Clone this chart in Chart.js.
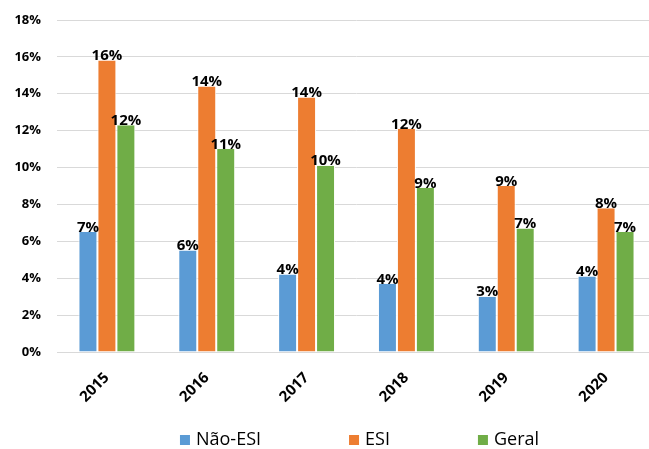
<!DOCTYPE html>
<html>
<head>
<meta charset="utf-8">
<script src="https://cdn.jsdelivr.net/npm/chart.js@4"></script>
<style>
  html, body { margin: 0; padding: 0; background: #fff; overflow: hidden; }
  #wrap { width: 656px; height: 449px; }
</style>
</head>
<body>
<div id="wrap"><canvas id="myChart"></canvas></div>
<script>
// years and rates (%) per group
const years = ["2015", "2016", "2017", "2018", "2019", "2020"];
const naoEsi = [6.5, 5.5, 4.2, 3.7, 3.0, 4.1];
const esi = [15.8, 14.4, 13.8, 12.1, 9.0, 7.8];
const geral = [12.3, 11.0, 10.1, 8.9, 6.7, 6.5];

const FONT = "'Open Sans', 'Noto Sans', sans-serif";

// draws the rounded % value above each bar
const valueLabels = {
  id: "valueLabels",
  afterDatasetsDraw(chart) {
    const ctx = chart.ctx;
    ctx.save();
    ctx.font = "bold 15px " + FONT;
    ctx.fillStyle = "#000";
    ctx.textAlign = "center";
    ctx.textBaseline = "bottom";
    chart.data.datasets.forEach((ds, i) => {
      const meta = chart.getDatasetMeta(i);
      meta.data.forEach((bar, j) => {
        ctx.fillText(Math.round(ds.data[j]) + "%", bar.x, bar.y + 3);
      });
    });
    ctx.restore();
  }
};

// legend along the bottom with wide gaps between the entries
const wideLegend = {
  id: "wideLegend",
  afterDraw(chart) {
    const ctx = chart.ctx;
    const gap = 88;
    const y = chart.height - 9;
    ctx.save();
    ctx.font = "18px " + FONT;
    ctx.textBaseline = "middle";
    const items = chart.data.datasets.map((ds) => ({
      text: ds.label,
      color: ds.backgroundColor,
      w: 16 + ctx.measureText(ds.label).width
    }));
    const total = items.reduce((s, it) => s + it.w, 0) + gap * (items.length - 1);
    const area = chart.chartArea;
    let x = (area.left + area.right) / 2 - total / 2 + 3;
    items.forEach((it) => {
      ctx.fillStyle = it.color;
      ctx.fillRect(x, y - 5, 10, 10);
      ctx.fillStyle = "#000";
      ctx.fillText(it.text, x + 16, y);
      x += it.w + gap;
    });
    ctx.restore();
  }
};

function makeSet(label, data, color) {
  return {
    label: label,
    data: data,
    backgroundColor: color,
    borderColor: "#ffffff",
    borderWidth: { left: 1, right: 1, top: 0, bottom: 0 },
    borderSkipped: false
  };
}

new Chart(document.getElementById("myChart"), {
  type: "bar",
  data: {
    labels: years,
    datasets: [
      makeSet("Não-ESI", naoEsi, "#5B9BD5"),
      makeSet("ESI", esi, "#ED7D31"),
      makeSet("Geral", geral, "#70AD47")
    ]
  },
  options: {
    responsive: true,
    maintainAspectRatio: false,
    animation: false,
    layout: { padding: { top: 20, right: 0, left: 0, bottom: 34 } },
    datasets: {
      bar: { categoryPercentage: 0.57, barPercentage: 1 }
    },
    scales: {
      y: {
        min: 0,
        max: 18,
        afterFit: (scale) => {
          scale.width = 57;
          scale.paddingTop = 0;
        },
        ticks: {
          stepSize: 2,
          callback: (v) => v + "%",
          color: "#000",
          font: { family: FONT, size: 13, weight: "bold" },
          padding: 16
        },
        grid: { color: "#D9D9D9", drawTicks: false },
        border: { display: false }
      },
      x: {
        ticks: {
          minRotation: 45,
          maxRotation: 45,
          color: "#000",
          font: { family: FONT, size: 15, weight: "bold" },
          padding: 9
        },
        grid: { display: false },
        border: { color: "#D9D9D9" }
      }
    },
    plugins: {
      legend: { display: false },
      tooltip: { enabled: false }
    }
  },
  plugins: [valueLabels, wideLegend]
});
</script>
</body>
</html>
